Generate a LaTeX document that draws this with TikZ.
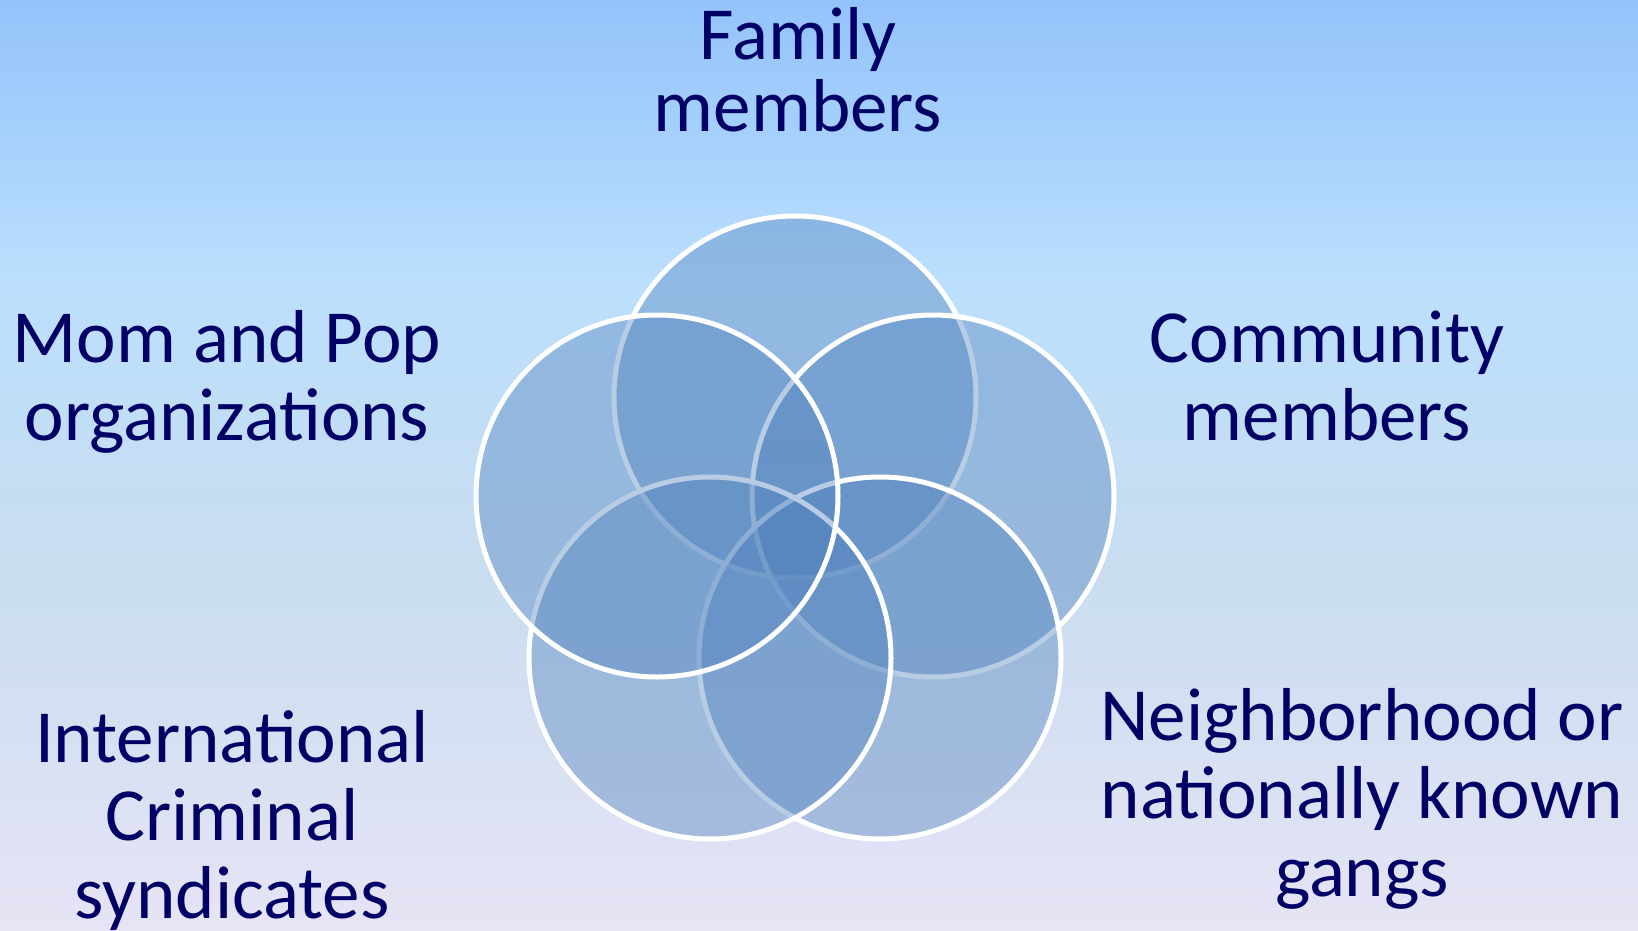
\documentclass[tikz,border=0pt]{standalone}
\usepackage{fontspec}
\setmainfont{Carlito}
\definecolor{txt}{RGB}{0,0,102}
\definecolor{blob}{RGB}{79,129,189}
\definecolor{bgtop}{RGB}{147,195,251}
\definecolor{bglight}{RGB}{187,223,253}
\definecolor{bgmid}{RGB}{200,221,240}
\definecolor{bgbot}{RGB}{230,228,245}
\pgfdeclareverticalshading{bgshade}{100bp}{color(0bp)=(bgbot); color(25bp)=(bgbot); color(45bp)=(bgmid); color(60bp)=(bglight); color(75bp)=(bgtop); color(100bp)=(bgtop)}
\tikzset{
  lbl/.style={text=txt, align=center, anchor=base, inner sep=0pt,
    font=\fontsize{37.5}{39}\selectfont},
  ring/.style={fill=blob, fill opacity=0.4, draw=white, draw opacity=1, line width=2.5pt}
}
\begin{document}
\begin{tikzpicture}[x=0.5pt,y=-0.5pt]
\shade[shading=bgshade] (0,0) rectangle (1638,931);
\useasboundingbox (0,0) rectangle (1638,931);
% circles
\path[ring] (795,397) circle[radius=181];
\path[ring] (933,496) circle[radius=181];
\path[ring] (880,658) circle[radius=181];
\path[ring] (710,658) circle[radius=181];
\path[ring] (657,496) circle[radius=181];
% labels (anchored at the baseline of the last line)
\node[lbl, font=\fontsize{37.5}{36}\selectfont] (fam) at (798,132) {Family\\members};
\node[lbl] (mom) at (227,440) {Mom and Pop\\organizations};
\node[lbl] (com) at (1327,440) {Community\\members};
\node[lbl] (intl) at (232,918) {International\\Criminal\\syndicates};
\node[lbl] (nbr) at (1362,896) {Neighborhood or\\nationally known\\gangs};
\end{tikzpicture}
\end{document}
